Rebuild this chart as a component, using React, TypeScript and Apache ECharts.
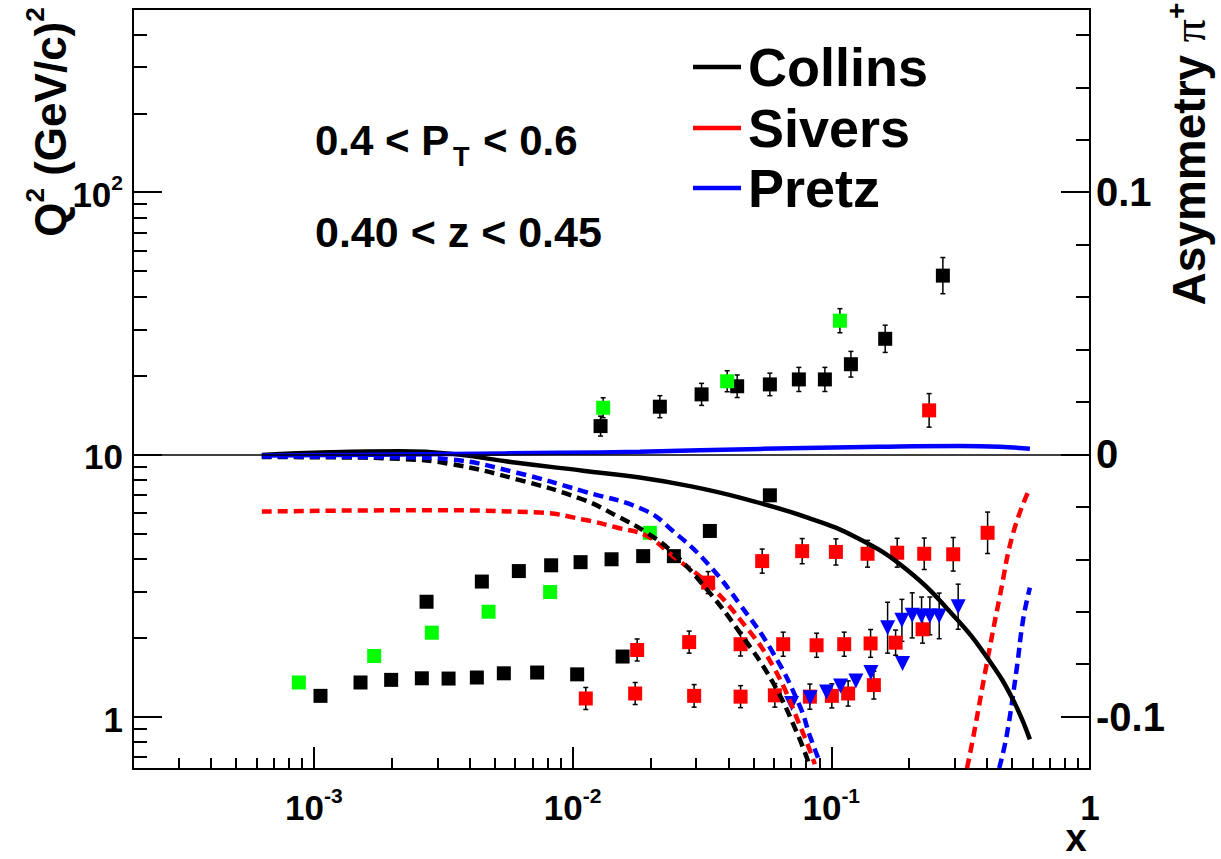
import React, { useEffect, useRef } from 'react';
import * as echarts from 'echarts';

// ---------- axis ranges ----------
const X_MIN = 2e-4;
const X_MAX = 1.0001;
const Q2_MIN = 0.631;
const Q2_MAX = 500;
const A_MIN = -0.12;
const A_MAX = 0.1699;

// ---------- tick values ----------
const X_MAJOR = [0.001, 0.01, 0.1, 1];
const X_MINOR = [3e-4, 4e-4, 5e-4, 6e-4, 7e-4, 8e-4, 9e-4, 2e-3, 3e-3, 4e-3, 5e-3, 6e-3, 7e-3, 8e-3, 9e-3, 0.02, 0.03, 0.04, 0.05, 0.06, 0.07, 0.08, 0.09, 0.2, 0.3, 0.4, 0.5, 0.6, 0.7, 0.8, 0.9];
const Q2_MAJOR = [1, 10, 100];
const Q2_MINOR = [0.7, 0.8, 0.9, 2, 3, 4, 5, 6, 7, 8, 9, 20, 30, 40, 50, 60, 70, 80, 90, 200, 300, 400];
const A_MAJOR = [-0.1, 0, 0.1];
const A_MINOR = [-0.08, -0.06, -0.04, -0.02, 0.02, 0.04, 0.06, 0.08, 0.12, 0.14, 0.16];

// ---------- data points: [x, asymmetry, error] ----------
const blackSquares: [number, number, number][] = [
  [1.061e-3, -0.0921, 0], [1.515e-3, -0.087, 0], [1.99e-3, -0.086, 0], [2.615e-3, -0.0854, 0],
  [3.317e-3, -0.0855, 0], [4.267e-3, -0.0851, 0], [5.425e-3, -0.0835, 0], [7.297e-3, -0.0832, 0],
  [1.042e-2, -0.0839, 0], [1.561e-2, -0.0771, 0],
  [2.727e-3, -0.0562, 0], [4.461e-3, -0.0485, 0], [6.2e-3, -0.0445, 0], [8.265e-3, -0.0423, 0],
  [1.074e-2, -0.0411, 0], [1.415e-2, -0.04, 0], [1.875e-2, -0.0388, 0], [2.464e-2, -0.0388, 0],
  [3.394e-2, -0.0292, 0], [5.79e-2, -0.0156, 0],
  [1.283e-2, 0.0108, 0.0038], [2.175e-2, 0.0182, 0.0042], [3.153e-2, 0.0229, 0.0042],
  [4.328e-2, 0.026, 0.0043], [5.79e-2, 0.0267, 0.0043], [7.494e-2, 0.0286, 0.0046],
  [9.447e-2, 0.0286, 0.0046], [0.1191, 0.0344, 0.0049], [0.1616, 0.0441, 0.0052],
  [0.27, 0.0682, 0.0069],
];

const greenSquares: [number, number, number][] = [
  [8.75e-4, -0.087, 0], [1.711e-3, -0.0769, 0], [2.858e-3, -0.068, 0], [4.735e-3, -0.06, 0],
  [8.19e-3, -0.0525, 0], [1.99e-2, -0.0299, 0],
  [1.313e-2, 0.0178, 0.0038], [3.959e-2, 0.0279, 0.004], [0.108, 0.051, 0.0046],
];

const redSquares: [number, number, number][] = [
  [1.125e-2, -0.0931, 0.0042], [1.746e-2, -0.0912, 0.0042], [1.777e-2, -0.0746, 0.0042],
  [2.823e-2, -0.0716, 0.0042], [2.951e-2, -0.0921, 0.0043], [3.343e-2, -0.0489, 0.0042],
  [4.461e-2, -0.0724, 0.0045], [4.461e-2, -0.0924, 0.0042], [5.407e-2, -0.0407, 0.0046],
  [6.053e-2, -0.0919, 0.0045], [6.519e-2, -0.0724, 0.0046], [7.718e-2, -0.0369, 0.0048],
  [8.266e-2, -0.0924, 0.0048], [8.775e-2, -0.0728, 0.0046], [0.1005, -0.0921, 0.0046],
  [0.1042, -0.0372, 0.005], [0.1122, -0.0724, 0.0046], [0.1162, -0.0912, 0.0048],
  [0.1381, -0.0379, 0.0051], [0.1419, -0.0721, 0.0053], [0.1461, -0.088, 0.0053],
  [0.1773, -0.0718, 0.0048], [0.1798, -0.0375, 0.0055], [0.2254, -0.0667, 0.0053],
  [0.2287, -0.0379, 0.006], [0.2389, 0.0168, 0.0064], [0.296, -0.0381, 0.0064],
  [0.402, -0.0299, 0.0079],
];

const blueTriangles: [number, number, number][] = [
  [7.025e-2, -0.095, 0], [8.287e-2, -0.0928, 0], [9.59e-2, -0.0906, 0], [0.1086, -0.0883, 0],
  [0.1245, -0.0864, 0], [0.1423, -0.0832, 0], [0.1651, -0.0661, 0.0097], [0.1875, -0.0633, 0.008],
  [0.1886, -0.0798, 0], [0.2055, -0.0614, 0.0086], [0.2234, -0.0616, 0.0072],
  [0.2405, -0.0616, 0.0072], [0.2613, -0.0616, 0.0087], [0.3094, -0.0581, 0.0086],
];

// ---------- model curves: [x, asymmetry] ----------
const collinsCurve: [number, number][] = [
  [6.295e-4, -0.0002], [1.153e-3, 0.0008], [2.15e-3, 0.0012], [3.356e-3, 0.0003],
  [6.091e-3, -0.0032], [1.096e-2, -0.0062], [1.82e-2, -0.0088], [2.841e-2, -0.0121],
  [4.434e-2, -0.0165], [8.048e-2, -0.0240], [0.1256, -0.0318], [0.196, -0.0440],
  [0.3058, -0.0629], [0.4103, -0.0790], [0.5035, -0.0935], [0.5858, -0.1087],
];
const pretzCurve: [number, number][] = [
  [6.295e-4, -0.0004], [1.378e-3, -0.0002], [3.356e-3, 0.0002], [8.93e-3, 0.0006], [1.82e-2, 0.001],
  [5.3e-2, 0.0021], [0.1541, 0.0029], [0.3142, 0.0032], [0.4485, 0.0029], [0.5858, 0.0022],
];
const blackDashedCurve: [number, number][] = [
  [6.295e-4, -0.001], [1.153e-3, -0.0011], [2.15e-3, -0.0017], [3.356e-3, -0.0036],
  [6.091e-3, -0.0095], [1.096e-2, -0.0172], [1.484e-2, -0.0235], [1.938e-2, -0.0299],
  [2.442e-2, -0.0375], [3.304e-2, -0.0515], [4.434e-2, -0.068], [5.947e-2, -0.087],
  [7.362e-2, -0.1061], [8.266e-2, -0.1189],
];
const blueDashedCurve: [number, number][] = [
  [6.295e-4, -0.0008], [2.15e-3, -0.0011], [3.356e-3, -0.0019], [6.091e-3, -0.007],
  [1.096e-2, -0.014], [1.904e-2, -0.0213], [2.442e-2, -0.0292], [3.304e-2, -0.0413],
  [4.434e-2, -0.0572], [5.947e-2, -0.0756], [7.559e-2, -0.096], [8.266e-2, -0.1074],
  [9.037e-2, -0.1175],
];
const blueDashedHigh: [number, number][] = [
  [0.4457, -0.1197], [0.4761, -0.1074], [0.5205, -0.082], [0.5517, -0.0629], [0.5858, -0.0508],
];
const redDashedCurve: [number, number][] = [
  [6.295e-4, -0.0218], [2.501e-3, -0.0213], [7.474e-3, -0.0222], [1.096e-2, -0.0248],
  [1.484e-2, -0.0279], [1.938e-2, -0.0311], [2.442e-2, -0.0388], [3.304e-2, -0.0489],
  [4.434e-2, -0.0629], [5.947e-2, -0.0807], [7.764e-2, -0.1061], [8.64e-2, -0.1182],
];
const redDashedHigh: [number, number][] = [
  [0.3347, -0.1197], [0.3536, -0.108], [0.3985, -0.0801], [0.4485, -0.054], [0.5049, -0.0299],
  [0.5858, -0.0127],
];

const legendItems = [
  { name: 'Collins', color: '#000000' },
  { name: 'Sivers', color: '#ff0000' },
  { name: 'Pretz', color: '#0000ff' },
];

const FONT = '"Liberation Sans", Arial, Helvetica, sans-serif';

const labelRich = {
  b: { fontFamily: FONT, fontWeight: 'bold', fontSize: 35, color: '#000', lineHeight: 40, verticalAlign: 'bottom' },
  s: { fontFamily: FONT, fontWeight: 'bold', fontSize: 21, color: '#000', lineHeight: 25, verticalAlign: 'top' },
};

function logLabel(v: number) {
  const e = Math.round(Math.log10(v));
  if (e === 0) return '{b|1}';
  if (e === 1) return '{b|10}';
  return '{b|10}{s|' + e + '}';
}

function scatterSeries(pts: [number, number, number][], color: string, symbol: string, size: number, rotate = 0) {
  return {
    type: 'scatter',
    xAxisIndex: 0,
    yAxisIndex: 1,
    symbol,
    symbolSize: size,
    symbolRotate: rotate,
    itemStyle: { color, opacity: 1 },
    data: pts.map((p) => [p[0], p[1]]),
    z: 3,
    silent: true,
  };
}

function errorSeries(pts: [number, number, number][]) {
  return {
    type: 'custom',
    xAxisIndex: 0,
    yAxisIndex: 1,
    data: pts.filter((p) => p[2] > 0).map((p) => [p[0], p[1] - p[2], p[1] + p[2]]),
    encode: { x: 0, y: [1, 2] },
    z: 2,
    silent: true,
    renderItem: (params: any, api: any) => {
      const x = api.value(0);
      const lo = api.coord([x, api.value(1)]);
      const hi = api.coord([x, api.value(2)]);
      const cap = 2.5;
      const st = { stroke: '#000', lineWidth: 1.5 };
      return {
        type: 'group',
        children: [
          { type: 'line', shape: { x1: lo[0], y1: lo[1], x2: hi[0], y2: hi[1] }, style: st },
          { type: 'line', shape: { x1: lo[0] - cap, y1: lo[1], x2: lo[0] + cap, y2: lo[1] }, style: st },
          { type: 'line', shape: { x1: hi[0] - cap, y1: hi[1], x2: hi[0] + cap, y2: hi[1] }, style: st },
        ],
      };
    },
  };
}

function curveSeries(data: [number, number][], color: string, dashed: boolean, extra: any = {}) {
  return {
    type: 'line',
    xAxisIndex: 0,
    yAxisIndex: 1,
    data,
    symbol: 'none',
    showSymbol: false,
    smooth: 0.45,
    clip: true,
    silent: true,
    lineStyle: { color, width: dashed ? 4.5 : 4.5, type: dashed ? [10, 6] : 'solid', cap: 'butt' },
    z: 4,
    ...extra,
  };
}

export default function App() {
  const ref = useRef<HTMLDivElement>(null);

  useEffect(() => {
    const chart = echarts.init(ref.current!, null, { renderer: 'svg' });

    const titleRich = (size: number, sup: number) => ({
      a: { fontFamily: FONT, fontWeight: 'bold', fontSize: size, color: '#000', lineHeight: 50, verticalAlign: 'bottom' },
      s: { fontFamily: FONT, fontWeight: 'bold', fontSize: sup, color: '#000', lineHeight: 30, verticalAlign: 'top' },
      p: { fontFamily: '"Liberation Serif", "DejaVu Serif", serif', fontSize: size, color: '#000', lineHeight: 50, verticalAlign: 'bottom' },
    });

    const graphics: any[] = [
      // axis titles
      {
        type: 'text', x: 47, y: 122, rotation: Math.PI / 2, silent: true, z: 10,
        style: { text: '{a|Q}{s|2}{a| (GeV/c)}{s|2}', rich: titleRich(44, 26), align: 'center', verticalAlign: 'middle' },
      },
      {
        type: 'text', x: 1187, y: 154, rotation: Math.PI / 2, silent: true, z: 10,
        style: { text: '{a|Asymmetry }{p|π}{s|+}', rich: titleRich(46, 28), align: 'center', verticalAlign: 'middle' },
      },
      {
        type: 'text', x: 1076, y: 838, silent: true, z: 10,
        style: { text: 'x', fontFamily: FONT, fontWeight: 'bold', fontSize: 38, fill: '#000', align: 'center', verticalAlign: 'middle' },
      },
      // kinematic annotations
      {
        type: 'text', x: 315, y: 140, silent: true, z: 10,
        style: { text: '0.4 < P', fontFamily: FONT, fontWeight: 'bold', fontSize: 42, fill: '#000', align: 'left', verticalAlign: 'middle' },
      },
      {
        type: 'text', x: 453, y: 157, silent: true, z: 10,
        style: { text: 'T', fontFamily: FONT, fontWeight: 'bold', fontSize: 27, fill: '#000', align: 'left', verticalAlign: 'middle' },
      },
      {
        type: 'text', x: 483, y: 140, silent: true, z: 10,
        style: { text: '< 0.6', fontFamily: FONT, fontWeight: 'bold', fontSize: 42, fill: '#000', align: 'left', verticalAlign: 'middle' },
      },
      {
        type: 'text', x: 315, y: 232, silent: true, z: 10,
        style: { text: '0.40 < z < 0.45', fontFamily: FONT, fontWeight: 'bold', fontSize: 43, fill: '#000', align: 'left', verticalAlign: 'middle' },
      },
    ];

    const legendY = [67, 128, 188];
    legendItems.forEach((it, i) => {
      graphics.push({
        type: 'line', silent: true, z: 10,
        shape: { x1: 693, y1: legendY[i], x2: 741, y2: legendY[i] },
        style: { stroke: it.color, lineWidth: 4.5 },
      });
      graphics.push({
        type: 'text', x: 748, y: legendY[i], silent: true, z: 10,
        style: { text: it.name, fontFamily: FONT, fontWeight: 'bold', fontSize: 54, fill: '#000', align: 'left', verticalAlign: 'middle' },
      });
    });

    const hiddenLine = { show: false, onZero: false };
    const tickStyle = { color: '#000', width: 2 };

    const option: any = {
      animation: false,
      backgroundColor: '#ffffff',
      grid: {
        left: 133, right: 131, top: 9, bottom: 90,
        show: true, borderColor: '#000', borderWidth: 2, backgroundColor: 'transparent',
        containLabel: false, outerBoundsMode: 'none',
      },
      xAxis: [
        {
          type: 'log', logBase: 10, min: X_MIN, max: X_MAX, position: 'bottom',
          axisLine: hiddenLine, splitLine: { show: false },
          axisTick: { show: true, inside: true, length: 22, customValues: X_MAJOR, lineStyle: tickStyle },
          axisLabel: { show: true, customValues: X_MAJOR, margin: 16, formatter: logLabel, rich: labelRich },
        },
        {
          type: 'log', logBase: 10, min: X_MIN, max: X_MAX, position: 'bottom',
          axisLine: hiddenLine, splitLine: { show: false },
          axisTick: { show: true, inside: true, length: 11, customValues: X_MINOR, lineStyle: tickStyle },
          axisLabel: { show: false },
        },
      ],
      yAxis: [
        {
          type: 'log', logBase: 10, min: Q2_MIN, max: Q2_MAX, position: 'left',
          axisLine: hiddenLine, splitLine: { show: false },
          axisTick: { show: true, inside: true, length: 29, customValues: Q2_MAJOR, lineStyle: tickStyle },
          axisLabel: { show: true, customValues: Q2_MAJOR, margin: 10, formatter: logLabel, rich: labelRich },
        },
        {
          type: 'value', min: A_MIN, max: A_MAX, position: 'right',
          axisLine: hiddenLine, splitLine: { show: false },
          axisTick: { show: true, inside: true, length: 29, customValues: A_MAJOR, lineStyle: tickStyle },
          axisLabel: {
            show: true, customValues: A_MAJOR, margin: 6, padding: [8, 0, 0, 0],
            fontFamily: FONT, fontWeight: 'bold', fontSize: 40, color: '#000',
            formatter: (v: number) => (Math.abs(v) < 1e-9 ? '0' : v.toFixed(1)),
          },
        },
        {
          type: 'log', logBase: 10, min: Q2_MIN, max: Q2_MAX, position: 'left',
          axisLine: hiddenLine, splitLine: { show: false },
          axisTick: { show: true, inside: true, length: 14, customValues: Q2_MINOR, lineStyle: tickStyle },
          axisLabel: { show: false },
        },
        {
          type: 'value', min: A_MIN, max: A_MAX, position: 'right',
          axisLine: hiddenLine, splitLine: { show: false },
          axisTick: { show: true, inside: true, length: 14, customValues: A_MINOR, lineStyle: tickStyle },
          axisLabel: { show: false },
        },
      ],
      graphic: graphics,
      series: [
        errorSeries(blackSquares),
        errorSeries(greenSquares),
        errorSeries(redSquares),
        errorSeries(blueTriangles),
        scatterSeries(blackSquares, '#000000', 'rect', 14),
        scatterSeries(greenSquares, '#00ff00', 'rect', 14),
        scatterSeries(redSquares, '#ff0000', 'rect', 14),
        scatterSeries(blueTriangles, '#0000ff', 'triangle', 15, 180),
        curveSeries(redDashedCurve, '#ff0000', true),
        curveSeries(redDashedHigh, '#ff0000', true),
        curveSeries(blackDashedCurve, '#000000', true),
        curveSeries(blueDashedCurve, '#0000ff', true),
        curveSeries(blueDashedHigh, '#0000ff', true),
        curveSeries(collinsCurve, '#000000', false),
        curveSeries(pretzCurve, '#0000ff', false, {
          markLine: {
            silent: true,
            symbol: ['none', 'none'],
            label: { show: false },
            lineStyle: { color: '#000', width: 1.5, type: 'solid' },
            data: [{ yAxis: 0 }],
          },
        }),
      ],
    };

    chart.setOption(option);
    return () => chart.dispose();
  }, []);

  return (
    <div
      ref={ref}
      style={{ position: 'fixed', left: 0, top: 0, width: 1221, height: 859, background: '#fff' }}
    />
  );
}
